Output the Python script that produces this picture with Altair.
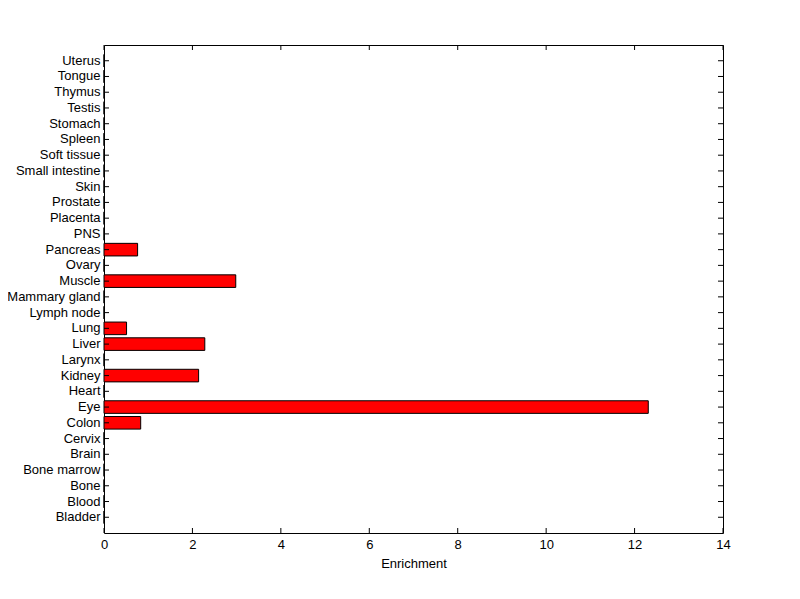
import altair as alt
import pandas as pd

tissues = ["Bladder", "Blood", "Bone", "Bone marrow", "Brain", "Cervix", "Colon", "Eye",
           "Heart", "Kidney", "Larynx", "Liver", "Lung", "Lymph node", "Mammary gland",
           "Muscle", "Ovary", "Pancreas", "PNS", "Placenta", "Prostate", "Skin",
           "Small intestine", "Soft tissue", "Spleen", "Stomach", "Testis", "Thymus",
           "Tongue", "Uterus"]
enrichment = [0, 0, 0, 0, 0, 0, 0.83, 12.31,
              0, 2.14, 0, 2.28, 0.51, 0, 0,
              2.98, 0, 0.76, 0, 0, 0, 0,
              0, 0, 0, 0, 0, 0,
              0, 0]
xticks = [0, 2, 4, 6, 8, 10, 12, 14]

W, H = 619, 488
FONT = "Liberation Sans"

df = pd.DataFrame({"tissue": tissues, "enrichment": enrichment})
tick_df = pd.DataFrame({"v": xticks})
order = list(reversed(tissues))

yscale = alt.Scale(domain=order, paddingInner=0.2, paddingOuter=0.6)
xscale = alt.Scale(domain=[0, 14], nice=False, zero=True)

base = alt.Chart(df)

bars = base.mark_bar(color="#FF0000", stroke="black", strokeWidth=1).encode(
    x=alt.X("enrichment:Q", scale=xscale,
            axis=alt.Axis(values=xticks, title="Enrichment", ticks=False, tickSize=0,
                          domain=False, grid=False, labelPadding=5, titlePadding=6,
                          labelFont=FONT, labelFontSize=13, titleFont=FONT,
                          titleFontSize=13, titleFontWeight="normal",
                          labelColor="black", titleColor="black", labelFlush=False)),
    y=alt.Y("tissue:N", scale=yscale, sort=order,
            axis=alt.Axis(title=None, ticks=False, tickSize=0, domain=False, grid=False,
                          labelPadding=4, labelFont=FONT, labelFontSize=13,
                          labelColor="black")),
)

yt_left = base.mark_rule(color="black", strokeWidth=1).encode(
    y=alt.Y("tissue:N", scale=yscale, sort=order), x=alt.value(0), x2=alt.value(5))
yt_right = base.mark_rule(color="black", strokeWidth=1).encode(
    y=alt.Y("tissue:N", scale=yscale, sort=order), x=alt.value(W - 5), x2=alt.value(W))

xt_bottom = alt.Chart(tick_df).mark_rule(color="black", strokeWidth=1).encode(
    x=alt.X("v:Q", scale=xscale), y=alt.value(H - 5), y2=alt.value(H))
xt_top = alt.Chart(tick_df).mark_rule(color="black", strokeWidth=1).encode(
    x=alt.X("v:Q", scale=xscale), y=alt.value(0), y2=alt.value(5))

chart = alt.layer(bars, yt_left, yt_right, xt_bottom, xt_top).properties(
    width=W, height=H,
    autosize=alt.AutoSizeParams(type="none"),
    padding={"left": 96, "top": 37, "right": 60, "bottom": 50},
    background="white",
).configure_view(stroke="black", strokeWidth=1)

chart.save("out.html", embed_options={"renderer": "svg", "actions": False})
